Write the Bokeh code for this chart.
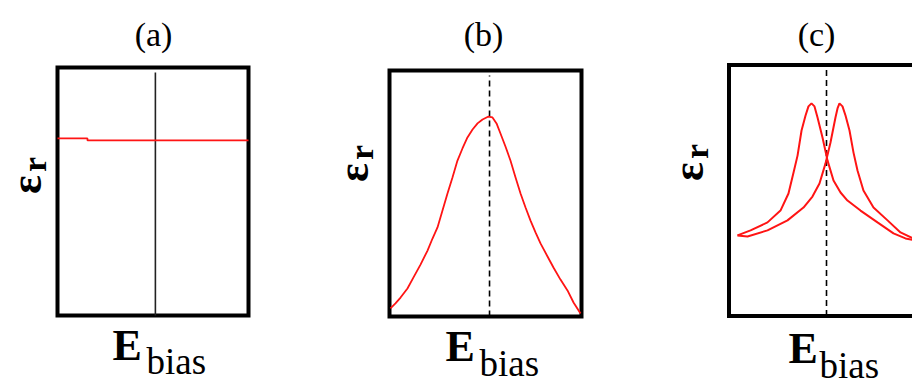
import numpy as np
from bokeh.plotting import figure
from bokeh.models import Label, Range1d
from bokeh.layouts import row
from bokeh.embed import file_html
from bokeh.resources import INLINE

# ---- data: bias field in arbitrary units (0 = zero bias, box spans -1..1),
#      relative permittivity in arbitrary units (box spans 0..10) ----

# (a) flat permittivity with a tiny step
a_bias = [-1.0, -0.686, -0.686, 1.0]
a_eps = [7.14, 7.14, 7.06, 7.06]
a_zero = 0.025

# (b) single peak at zero bias
b_bias = [-0.990, -0.938, -0.885, -0.813, -0.750, -0.677, -0.604, -0.552, -0.500, -0.448,
          -0.396, -0.344, -0.292, -0.240, -0.188, -0.135, -0.083, -0.031, 0.031,
          0.073, 0.115, 0.156, 0.208, 0.260, 0.313, 0.365, 0.417, 0.469, 0.521,
          0.573, 0.646, 0.708, 0.781, 0.854, 0.917, 0.990]
b_eps = [0.33, 0.53, 0.77, 1.14, 1.59, 2.11, 2.68, 3.17, 3.62, 4.31,
         5.00, 5.65, 6.34, 6.83, 7.28, 7.60, 7.85, 8.01, 8.13,
         8.09, 7.85, 7.44, 6.91, 6.34, 5.65, 5.00, 4.43, 3.90, 3.42,
         2.97, 2.44, 1.99, 1.50, 1.06, 0.57, 0.12]
b_zero = 0.042

# (c) butterfly loop: two branches peaking either side of zero bias
c_bias_1 = [-0.913, -0.779, -0.605, -0.472, -0.390, -0.338, -0.297, -0.256, -0.215, -0.185,
            -0.154, -0.123, -0.092, -0.041, 0.010, 0.072, 0.144, 0.215, 0.349, 0.523,
            0.687, 0.810, 0.913]
c_eps_1 = [3.21, 3.41, 3.73, 4.20, 4.88, 5.72, 6.39, 7.39, 7.99, 8.35,
           8.47, 8.35, 7.91, 7.11, 6.20, 5.40, 4.92, 4.60, 4.20, 3.73,
           3.29, 3.09, 3.01]
c_bias_2 = [-0.913, -0.810, -0.605, -0.400, -0.236, -0.144, -0.072, -0.010, 0.041, 0.092,
            0.113, 0.133, 0.164, 0.195, 0.236, 0.277, 0.318, 0.379, 0.482, 0.626,
            0.759, 0.913]
c_eps_2 = [3.21, 3.17, 3.41, 3.81, 4.32, 4.76, 5.28, 6.08, 6.91, 7.91,
           8.27, 8.47, 8.35, 7.99, 7.39, 6.51, 5.80, 5.00, 4.32, 3.81,
           3.33, 3.05]
c_zero = 0.0

panel_titles = ["(a)", "(b)", "(c)"]
y_symbol = ("\u03b5", "r")
x_symbol = ("E", "bias")

# box drawn around each panel, in data units
BOX = dict(left=-1.0, right=1.0, bottom=0.0, top=10.0)
GUIDE_TOP = 9.8

SERIF = "Liberation Serif"
RED = "#ff1414"
H = 385
# horizontal labels are anchored at their middle, rotated ones at their bottom edge;
# these are the distances (in em) from the wanted baseline to that anchor
MID_OFFSET = 0.38
BOTTOM_OFFSET_ROTATED = 0.2


def make_panel(width, offset, box_x, box_y):
    """Figure whose frame fills the whole canvas; the box sits at the given page pixels."""
    ux = (box_x[1] - box_x[0]) / (BOX["right"] - BOX["left"])
    uy = (box_y[1] - box_y[0]) / (BOX["top"] - BOX["bottom"])
    xr = Range1d(BOX["left"] - (box_x[0] - offset) / ux,
                 BOX["right"] + (offset + width - box_x[1]) / ux)
    yr = Range1d(BOX["bottom"] - (H - box_y[1]) / uy,
                 BOX["top"] + box_y[0] / uy)
    p = figure(width=width, height=H, x_range=xr, y_range=yr,
               output_backend="svg", toolbar_location=None, tools="",
               x_axis_location=None, y_axis_location=None, min_border=0)
    p.xgrid.grid_line_color = None
    p.ygrid.grid_line_color = None
    p.outline_line_color = None
    p.background_fill_color = "white"
    p.border_fill_color = "white"
    p.quad(left=[BOX["left"]], right=[BOX["right"]], bottom=[BOX["bottom"]], top=[BOX["top"]],
           fill_color=None, line_color="black", line_width=4, line_join="miter")

    def to_data(px, py):
        return xr.start + (px - offset) / ux, yr.end - py / uy
    return p, to_data


def add_text(p, to_data, px, py, text, size, bold=False, rotated=False, align="left"):
    # px/py give the wanted baseline position in page pixels
    if rotated:
        px += BOTTOM_OFFSET_ROTATED * size
        baseline = "bottom"
    else:
        py -= MID_OFFSET * size
        baseline = "middle"
    x, y = to_data(px, py)
    p.add_layout(Label(x=x, y=y, text=text, text_font=SERIF,
                       text_font_size=f"{size}px",
                       text_font_style="bold" if bold else "normal",
                       text_color="black", angle=np.pi / 2 if rotated else 0.0,
                       text_align=align, text_baseline=baseline))


def decorate(p, to_data, title, title_cx, eps_base_x, eps_cy, e_left, e_base, bias_left, bias_base):
    add_text(p, to_data, title_cx, 47, title, 34, align="center")
    add_text(p, to_data, eps_base_x, eps_cy, y_symbol[0], 44, bold=True,
             rotated=True, align="center")
    add_text(p, to_data, eps_base_x + 4, eps_cy - 20, y_symbol[1], 34, bold=True,
             rotated=True, align="center")
    add_text(p, to_data, e_left, e_base, x_symbol[0], 44, bold=True)
    add_text(p, to_data, bias_left, bias_base, x_symbol[1], 37)


# (a)
pa, da = make_panel(300, 0, (57, 248), (67, 315))
pa.segment(x0=[a_zero], y0=[BOX["bottom"]], x1=[a_zero], y1=[GUIDE_TOP],
           line_color="#222222", line_width=1.6)
pa.line(a_bias, a_eps, line_color=RED, line_width=1.8)
decorate(pa, da, panel_titles[0], 153, 42, 184, 112, 362, 146, 375)

# (b)
pb, db = make_panel(340, 300, (389, 581), (70, 316))
pb.segment(x0=[b_zero], y0=[BOX["bottom"]], x1=[b_zero], y1=[GUIDE_TOP],
           line_color="black", line_width=1.6, line_dash="6 4")
pb.line(b_bias, b_eps, line_color=RED, line_width=1.8)
decorate(pb, db, panel_titles[1], 483, 369, 172, 445, 363, 479, 377)

# (c) - the box runs past the right edge of the page
pc, dc = make_panel(272, 640, (728.5, 923.5), (64.5, 315.5))
pc.segment(x0=[c_zero], y0=[BOX["bottom"]], x1=[c_zero], y1=[GUIDE_TOP],
           line_color="black", line_width=1.6, line_dash="6 4")
pc.line(c_bias_1, c_eps_1, line_color=RED, line_width=2)
pc.line(c_bias_2, c_eps_2, line_color=RED, line_width=2)
decorate(pc, dc, panel_titles[2], 816, 704, 171, 788, 365, 819, 379)

layout = row(pa, pb, pc, spacing=0)
open("out.html", "w").write(file_html(layout, INLINE))
